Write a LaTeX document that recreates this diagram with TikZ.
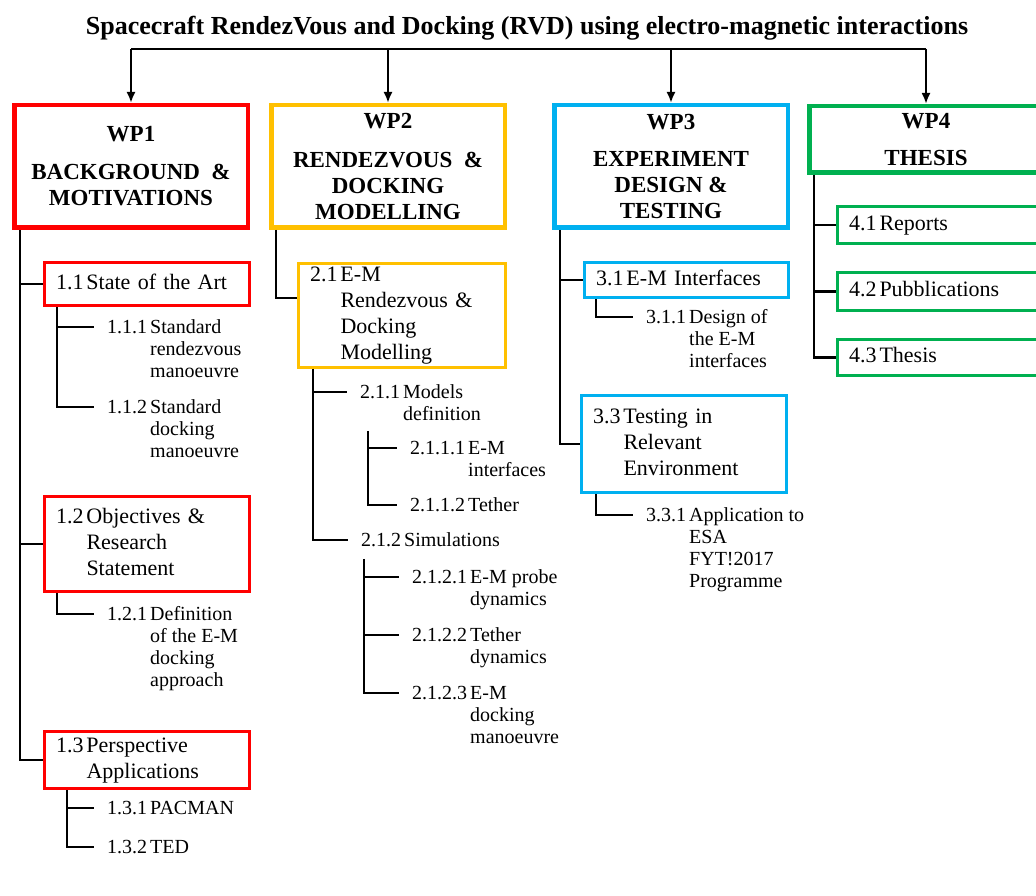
\documentclass[tikz,border=0pt]{standalone}
\usepackage{fontspec}
\setmainfont{Liberation Serif}
\usepackage{tikz}
\usetikzlibrary{arrows.meta}
\usepackage{xcolor}

\definecolor{wpred}{RGB}{255,0,0}
\definecolor{wporange}{RGB}{255,192,0}
\definecolor{wpblue}{RGB}{0,176,240}
\definecolor{wpgreen}{RGB}{0,176,80}

\newcommand{\wbs}[2]{\begin{tabular}[t]{@{}l@{\hspace{3pt}}l@{}}#1&\begin{tabular}[t]{@{}l@{}}#2\end{tabular}\end{tabular}}

\begin{document}
\begin{tikzpicture}[x=1pt,y=-1pt,
  conn/.style={line width=2.4pt},
  wp/.style={draw=#1, line width=4.5pt, minimum width=233.5pt, minimum height=122.5pt, inner sep=0pt, align=center, font=\bfseries\fontsize{23}{26}\selectfont},
  sub/.style={draw=#1, line width=3pt, inner xsep=11.5pt, inner ysep=0pt, text width=182pt, align=left, font=\fontsize{22}{26}\selectfont},
  item/.style={anchor=base west, inner sep=0pt, font=\fontsize{20}{22}\selectfont}]

\useasboundingbox (0,0) rectangle (1036,896);
\fill[white] (0,0) rectangle (1036,896);
\clip (0,0) rectangle (1036,896);

\node[font=\bfseries\fontsize{26}{28}\selectfont] (title) at (527,28) {Spacecraft RendezVous and Docking (RVD) using electro-magnetic interactions};
\coordinate (bus) at (527,49);

\node[wp=wpred] (wp1) at (131,166.5) {WP1\\[12pt]BACKGROUND \ \&\\MOTIVATIONS};
\node[wp=wporange] (wp2) at (388,166.5) {WP2\\[13pt]RENDEZVOUS \ \&\\DOCKING\\MODELLING};
\node[wp=wpblue] (wp3) at (671,166.5) {WP3\\[11pt]EXPERIMENT\\DESIGN \&\\TESTING};
\node[wp=wpgreen, minimum height=66.5pt] (wp4) at (926,139.5) {WP4\\[11pt]THESIS};

\draw[conn] (bus -| wp1.north) -- (bus -| wp4.north);
\foreach \w in {wp1,wp2,wp3,wp4}
  \draw[conn,-{Latex[length=11pt,width=9pt]}] (bus -| \w.north) -- (\w.north);

\node[sub=wpred, minimum height=43pt] (b11) at (147,284) {\wbs{1.1}{State of the Art}};
\node[sub=wpred, minimum height=95pt] (b12) at (147,544) {\wbs{1.2}{Objectives \&\\Research\\Statement}};
\node[sub=wpred, minimum height=57pt] (b13) at (147,760) {\wbs{1.3}{Perspective\\Applications}};
\node[sub=wporange, text width=184pt, minimum height=103pt] (b21) at (402,315) {\wbs{2.1}{E-M\\Rendezvous \&\\Docking\\Modelling}};
\node[sub=wpblue, text width=181pt, minimum height=35pt] (b31) at (686.5,280) {\wbs{3.1}{E-M Interfaces}};
\node[sub=wpblue, minimum height=97pt] (b33) at (684,444) {\wbs{3.3}{Testing in\\Relevant\\Environment}};
\node[sub=wpgreen, text width=214pt, minimum height=37pt] (b41) at (956,225) {\wbs{4.1}{Reports}};
\node[sub=wpgreen, text width=214pt, minimum height=38pt] (b42) at (956,291.5) {\wbs{4.2}{Pubblications}};
\node[sub=wpgreen, text width=214pt, minimum height=36pt] (b43) at (956,357.5) {\wbs{4.3}{Thesis}};

\node[item] (i111) at (107,333) {\wbs{1.1.1}{Standard\\rendezvous\\manoeuvre}};
\node[item] (i112) at (107,413) {\wbs{1.1.2}{Standard\\docking\\manoeuvre}};
\node[item] (i121) at (107,620) {\wbs{1.2.1}{Definition\\of the E-M\\docking\\approach}};
\node[item] (i131) at (107,814) {\wbs{1.3.1}{PACMAN}};
\node[item] (i132) at (107,853) {\wbs{1.3.2}{TED}};
\node[item] (i211) at (360,398) {\wbs{2.1.1}{Models\\definition}};
\node[item] (i2111) at (410,454) {\wbs{2.1.1.1}{E-M\\interfaces}};
\node[item] (i2112) at (410,511) {\wbs{2.1.1.2}{Tether}};
\node[item] (i212) at (361,546) {\wbs{2.1.2}{Simulations}};
\node[item] (i2121) at (412,583) {\wbs{2.1.2.1}{E-M probe\\dynamics}};
\node[item] (i2122) at (412,641) {\wbs{2.1.2.2}{Tether\\dynamics}};
\node[item] (i2123) at (412,699) {\wbs{2.1.2.3}{E-M\\docking\\manoeuvre}};
\node[item] (i311) at (646,323) {\wbs{3.1.1}{Design of\\the E-M\\interfaces}};
\node[item] (i331) at (646,521) {\wbs{3.3.1}{Application to\\ESA\\FYT!2017\\Programme}};

\foreach \n in {111,112,121,131,132,211,212,2111,2112,2121,2122,2123,311,331}
  \coordinate (t\n) at ([xshift=-13pt,yshift=6pt]i\n.base west);

\draw[conn] ([xshift=8pt]wp1.south west) coordinate (s1) |- (b13.west);
\draw[conn] (s1 |- b11.west) -- (b11.west);
\draw[conn] (s1 |- b12.west) -- (b12.west);
\draw[conn] ([xshift=7pt]wp2.south west) |- ([yshift=17pt]b21.west);
\draw[conn] ([xshift=8pt]wp3.south west) coordinate (s3) |- (b33.west);
\draw[conn] (s3 |- b31.west) -- (b31.west);
\draw[conn] ([xshift=7pt]wp4.south west) coordinate (s4) |- (b43.west);
\draw[conn] (s4 |- b41.west) -- (b41.west);
\draw[conn] (s4 |- b42.west) -- (b42.west);

\draw[conn] ([xshift=14pt]b11.south west) coordinate (s11) |- (t112);
\draw[conn] (s11 |- t111) -- (t111);
\draw[conn] ([xshift=14pt]b12.south west) |- (t121);
\draw[conn] ([xshift=24pt]b13.south west) coordinate (s13) |- (t132);
\draw[conn] (s13 |- t131) -- (t131);

\draw[conn] ([xshift=16pt]b21.south west) coordinate (s21) |- (t212);
\draw[conn] (s21 |- t211) -- (t211);
\draw[conn] ([xshift=8pt,yshift=-4pt]i211.south west) coordinate (s211) |- (t2112);
\draw[conn] (s211 |- t2111) -- (t2111);
\draw[conn] ([xshift=3pt,yshift=-6pt]i212.south west) coordinate (s212) |- (t2123);
\draw[conn] (s212 |- t2121) -- (t2121);
\draw[conn] (s212 |- t2122) -- (t2122);

\draw[conn] ([xshift=13pt]b31.south west) |- (t311);
\draw[conn] ([xshift=16pt]b33.south west) |- (t331);
\end{tikzpicture}
\end{document}
